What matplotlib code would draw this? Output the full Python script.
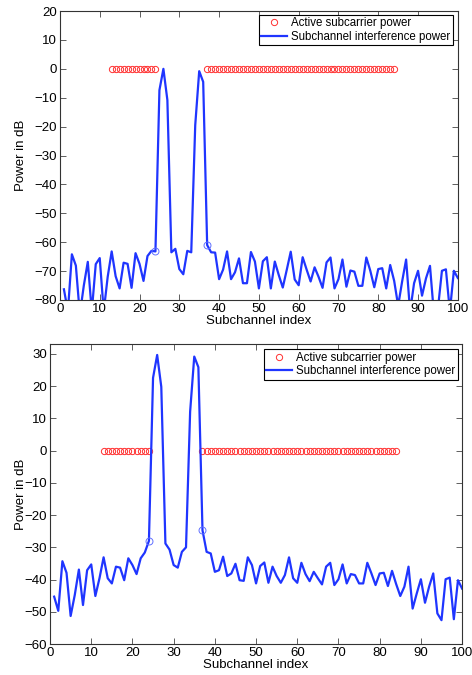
import numpy as np
import matplotlib
matplotlib.use("Agg")
import matplotlib.pyplot as plt

plt.rcParams['font.family'] = ['Liberation Sans', 'DejaVu Sans']

# subchannel indices and active subcarriers
idx = np.arange(1, 101)
active_idx = list(range(13, 25)) + list(range(37, 85))
active_pow = [0] * len(active_idx)
edge_idx = [24, 37]

# interference power, top panel (dB), values below -80 fall off the axes
top_pow = [-76.3, -84, -64.2, -68.1, -85, -75, -66.8, -84, -67.6, -65.5,
           -84, -72, -63.2, -71.8, -76, -67.1, -67.5, -75.8, -63.8, -67.5,
           -73.4, -64.8, -63, -63.2, -7.4, 0, -10.8, -63.5, -62.3, -69.3,
           -71.1, -63, -63.5, -19.5, -0.8, -4.5, -61, -63.5, -63.6, -72.8,
           -69.5, -63.2, -72.8, -70.4, -65.6, -74.2, -74.2, -63.4, -66.7, -76,
           -66.6, -65.2, -76, -66.7, -71.4, -75.7, -69.6, -63.3, -72.9, -74.9,
           -65.2, -69.5, -73.6, -68.7, -72, -75.8, -67, -65.3, -76, -72.8,
           -66, -75.4, -69.8, -70.2, -75.1, -75.1, -65.3, -69.9, -75.6, -69.3,
           -69, -76, -67.9, -73.4, -82, -73.6, -66, -84, -74.2, -69.9,
           -78.5, -72.5, -68.2, -85, -83, -69.9, -69.4, -84, -69.9, -72.4]

# interference power, bottom panel (dB)
bot_pow = [-45.3, -49.7, -34.3, -37.9, -51.3, -44.8, -36.9, -47.9, -37.1, -35.3,
           -45.1, -39.6, -33.1, -39.6, -41.2, -36, -36.3, -40.2, -33.4, -35.5,
           -38.3, -33.4, -31.6, -28, 22.6, 29.7, 19.8, -28.8, -30.7, -35.5,
           -36.3, -31.4, -30, 12.1, 29.2, 25.9, -24.7, -31.4, -31.9, -37.6,
           -37.1, -32.9, -38.9, -38.1, -35.1, -40.2, -40.4, -33.1, -35.5, -41.2,
           -35.8, -34.7, -41, -36, -38.9, -41, -38.6, -33.1, -39.6, -41,
           -34.8, -38.3, -40.5, -37.6, -39.6, -41.5, -36, -34.8, -41.7, -39.9,
           -35.3, -41.2, -38.3, -38.6, -41.2, -41.2, -34.8, -38.1, -41.7, -38.1,
           -37.9, -42, -37.3, -41.4, -45.1, -42.2, -36, -49, -44.3, -39.9,
           -47.2, -42.2, -38.1, -50.5, -52.6, -39.9, -39.4, -52.3, -40.2, -42.8]

blue = '#1f35ff'


def panel(ax, pw, ylim, yticks, leg_anchor, ylab_x):
    pw = np.array(pw)
    ax.plot(active_idx, active_pow, 'o', mfc='none', mec='#ff3030', ms=4.5, mew=0.7,
            label='Active subcarrier power')
    ax.plot(idx, pw, '-', color=blue, lw=1.6, label='Subchannel interference power')
    e = [i - 1 for i in edge_idx]
    ax.plot(edge_idx, pw[e], 'o', mfc='none', mec='#6070ff', ms=5, mew=0.7)
    ax.set_xlim(0, 100)
    ax.set_ylim(*ylim)
    ax.set_xticks(range(0, 101, 10))
    ax.set_yticks(yticks)
    ax.tick_params(direction='in', top=True, right=True, labelsize=9.5, length=4,
                   width=0.6, color='#444444', pad=2)
    for s in ax.spines.values():
        s.set_linewidth(0.8)
        s.set_color('#333333')
    ax.set_xlabel('Subchannel index', fontsize=9.5, labelpad=0)
    ax.set_ylabel('Power in dB', fontsize=9.5)
    ax.yaxis.set_label_coords(ylab_x, 0.5)
    leg = ax.legend(loc='upper right', bbox_to_anchor=leg_anchor, borderaxespad=0,
                    fontsize=8.3, fancybox=False, framealpha=1, edgecolor='black',
                    handlelength=2.2, handletextpad=0.4, borderpad=0.2,
                    labelspacing=0.15, numpoints=1)
    leg.get_frame().set_linewidth(0.8)


fig = plt.figure(figsize=(4.72, 6.75), dpi=100)
ax1 = fig.add_axes([0.127, 0.5556, 0.843, 0.428])
panel(ax1, top_pow, (-80, 20), range(-80, 21, 10), (0.987, 0.986), -0.083)
ax2 = fig.add_axes([0.106, 0.0459, 0.873, 0.444])
panel(ax2, bot_pow, (-60, 33), range(-60, 31, 10), (0.990, 0.983), -0.057)

fig.savefig('out.png', dpi=100)
